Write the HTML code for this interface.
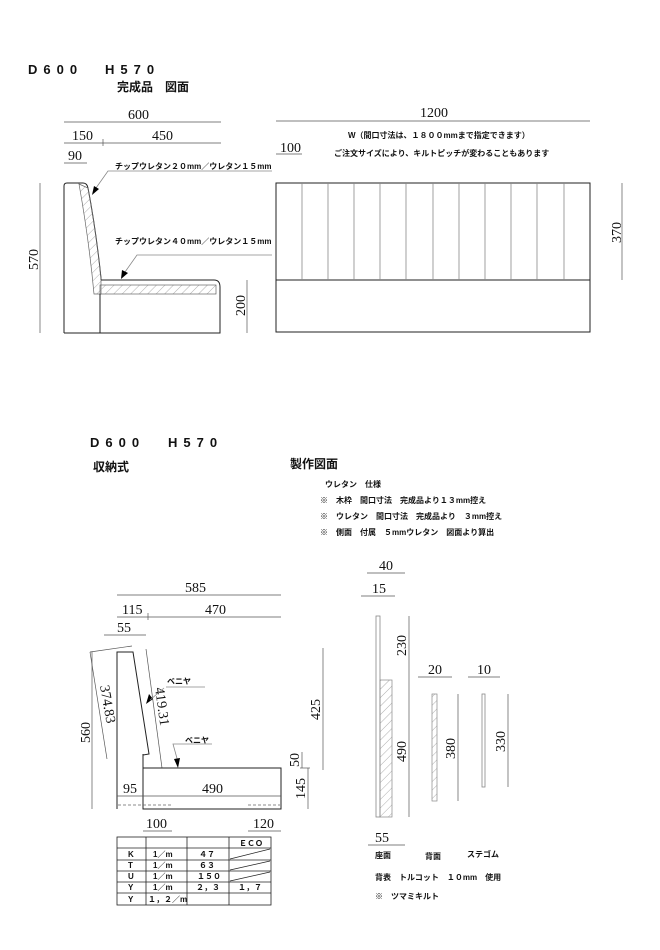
<!DOCTYPE html>
<html><head><meta charset="utf-8"><style>
html,body{margin:0;padding:0;background:#fff;}
svg{display:block;}
text{font-family:"Liberation Sans","Noto Sans CJK JP",sans-serif;fill:#111;}
.s{font-family:"Liberation Serif","Noto Serif CJK SC",serif;font-size:14px;}
.j{font-size:8px;font-weight:bold;}
.l{stroke:#222;stroke-width:1;fill:none;}
.t{stroke:#555;stroke-width:0.7;fill:none;}
.g{stroke:#888;stroke-width:0.8;fill:none;}
</style></head><body>
<svg width="660" height="950" viewBox="0 0 660 950" xmlns="http://www.w3.org/2000/svg">
<defs>
<pattern id="h" width="6" height="6" patternUnits="userSpaceOnUse" patternTransform="rotate(45)">
<line x1="0" y1="0" x2="0" y2="6" stroke="#999" stroke-width="0.8"/></pattern>
</defs>

<text x="28" y="74" font-size="13" font-weight="bold" letter-spacing="6">D600</text>
<text x="105" y="74" font-size="13" font-weight="bold" letter-spacing="6">H570</text>
<text x="117" y="91" font-size="12" font-weight="bold">完成品　図面</text>

<line class="t" x1="64" y1="122" x2="221" y2="122"/>
<text class="s" x="128" y="119">600</text>
<line class="t" x1="64" y1="143" x2="221" y2="143"/>
<line class="t" x1="103" y1="139" x2="103" y2="146"/>
<text class="s" x="72" y="140">150</text>
<text class="s" x="152" y="140">450</text>
<line class="t" x1="64" y1="163" x2="87" y2="163"/>
<text class="s" x="68" y="160">90</text>
<line class="t" x1="40" y1="183" x2="40" y2="333"/>
<text class="s" transform="translate(38,270) rotate(-90)">570</text>
<line class="t" x1="247" y1="280" x2="247" y2="333"/>
<text class="s" transform="translate(245,316) rotate(-90)">200</text>

<path class="l" d="M64 333 L64 186 Q64 183 67 183 L83 183 Q87 183 88 188 Q96 230 101 278 L101 280"/>
<path fill="url(#h)" stroke="#666" stroke-width="0.7" d="M79 184 L88 188 Q96 230 101 278 L101 294 L94 294 Q89 240 79 184Z"/>
<rect x="100" y="285" width="116" height="9" fill="url(#h)" stroke="#666" stroke-width="0.7"/>
<path class="l" d="M101 280 L214 280 Q220 280 220 287 L220 333 L64 333"/>
<line class="l" x1="100" y1="294" x2="100" y2="333"/>
<polyline class="g" points="272,171 108,171 96,188"/>
<polygon points="92,195 94,186 99,189" fill="#000"/>
<text class="j" x="115" y="169">チップウレタン２０mm／ウレタン１５mm</text>
<polyline class="g" points="272,255 137,255 125,272"/>
<polygon points="121,279 122,270 128,273" fill="#000"/>
<text class="j" x="115" y="244">チップウレタン４０mm／ウレタン１５mm</text>

<line class="t" x1="276" y1="121" x2="590" y2="121"/>
<text class="s" x="420" y="117">1200</text>
<text class="s" x="280" y="152">100</text>
<line class="t" x1="276" y1="154" x2="302" y2="154"/>
<text class="j" x="348" y="138">W（間口寸法は、１８００mmまで指定できます）</text>
<text class="j" x="334" y="156">ご注文サイズにより、キルトピッチが変わることもあります</text>
<rect class="l" x="276" y="183" width="314" height="149"/>
<line class="l" x1="276" y1="280" x2="590" y2="280"/>
<g class="g">
<line x1="302" y1="183" x2="302" y2="280"/><line x1="328" y1="183" x2="328" y2="280"/>
<line x1="354" y1="183" x2="354" y2="280"/><line x1="380" y1="183" x2="380" y2="280"/>
<line x1="406" y1="183" x2="406" y2="280"/><line x1="433" y1="183" x2="433" y2="280"/>
<line x1="459" y1="183" x2="459" y2="280"/><line x1="485" y1="183" x2="485" y2="280"/>
<line x1="511" y1="183" x2="511" y2="280"/><line x1="537" y1="183" x2="537" y2="280"/>
<line x1="564" y1="183" x2="564" y2="280"/>
</g>
<line class="t" x1="622" y1="183" x2="622" y2="280"/>
<text class="s" transform="translate(621,243) rotate(-90)">370</text>

<text x="90" y="447" font-size="13" font-weight="bold" letter-spacing="6">D600</text>
<text x="168" y="447" font-size="13" font-weight="bold" letter-spacing="6">H570</text>
<text x="93" y="471" font-size="12" font-weight="bold">収納式</text>
<text x="290" y="468" font-size="12" font-weight="bold">製作図面</text>
<text class="j" x="325" y="487">ウレタン　仕様</text>
<text class="j" x="320" y="503">※　木枠　間口寸法　完成品より１３mm控え</text>
<text class="j" x="320" y="519">※　ウレタン　間口寸法　完成品より　３mm控え</text>
<text class="j" x="320" y="535">※　側面　付属　５mmウレタン　図面より算出</text>

<line class="t" x1="117" y1="595" x2="281" y2="595"/>
<text class="s" x="185" y="592">585</text>
<line class="t" x1="117" y1="617" x2="281" y2="617"/>
<line class="t" x1="148" y1="613" x2="148" y2="620"/>
<text class="s" x="122" y="614">115</text>
<text class="s" x="205" y="614">470</text>
<line class="t" x1="104" y1="635" x2="146" y2="635"/>
<text class="s" x="117" y="632">55</text>
<line class="t" x1="92" y1="652" x2="92" y2="809"/>
<text class="s" transform="translate(90,743) rotate(-90)">560</text>
<line class="t" x1="90" y1="652" x2="107" y2="759"/>
<line class="t" x1="90" y1="652" x2="132" y2="646"/>
<text class="s" transform="translate(100,686) rotate(80)">374.83</text>
<line class="t" x1="146" y1="649" x2="162" y2="768"/>
<text class="s" transform="translate(155,688) rotate(82)">419.31</text>

<path class="l" d="M117 809 L117 652 L133 652 L149 754 L143 755 L143 768"/>
<rect class="l" x="143" y="768" width="138" height="41"/>
<line class="l" x1="143" y1="754" x2="143" y2="809"/>
<line class="t" x1="117" y1="796" x2="281" y2="796"/>
<line x1="118" y1="805" x2="173" y2="805" stroke="#666" stroke-width="0.7" stroke-dasharray="3,2"/>
<line x1="248" y1="805" x2="280" y2="805" stroke="#666" stroke-width="0.7" stroke-dasharray="3,2"/>
<text class="s" x="123" y="793">95</text>
<text class="s" x="202" y="793">490</text>
<polyline class="g" points="205,687 166,687"/>
<polygon points="146,704 149,694 153,699" fill="#000"/>
<line class="g" x1="150" y1="700" x2="164" y2="688"/>
<text class="j" x="167" y="684">ベニヤ</text>
<polyline class="g" points="212,744 173,744 178,762"/>
<polygon points="178,768 174,759 180,758" fill="#000"/>
<text class="j" x="185" y="743">ベニヤ</text>

<line class="t" x1="323" y1="648" x2="323" y2="770"/>
<text class="s" transform="translate(320,720) rotate(-90)">425</text>
<line class="t" x1="302" y1="752" x2="302" y2="768"/>
<line class="t" x1="300" y1="768" x2="310" y2="768"/>
<text class="s" transform="translate(299,767) rotate(-90)">50</text>
<line class="t" x1="308" y1="768" x2="308" y2="809"/>
<text class="s" transform="translate(305,799) rotate(-90)">145</text>

<line class="t" x1="143" y1="831" x2="172" y2="831"/>
<text class="s" x="146" y="828">100</text>
<line class="t" x1="248" y1="831" x2="281" y2="831"/>
<text class="s" x="253" y="828">120</text>

<g stroke="#222" stroke-width="0.8" fill="none">
<rect x="117" y="837" width="154" height="68"/>
<line x1="117" y1="848" x2="271" y2="848"/><line x1="117" y1="860" x2="271" y2="860"/>
<line x1="117" y1="871" x2="271" y2="871"/><line x1="117" y1="882" x2="271" y2="882"/>
<line x1="117" y1="893" x2="271" y2="893"/>
<line x1="146" y1="837" x2="146" y2="905"/><line x1="187" y1="837" x2="187" y2="905"/>
<line x1="229" y1="837" x2="229" y2="905"/>
<line x1="230" y1="859" x2="270" y2="849"/><line x1="230" y1="870" x2="270" y2="861"/>
<line x1="230" y1="881" x2="270" y2="872"/>
</g>
<g font-size="8" font-weight="bold">
<text x="239" y="846">ＥＣＯ</text>
<text x="128" y="857">K</text><text x="153" y="857">1／m</text><text x="199" y="857">４７</text>
<text x="128" y="868">T</text><text x="153" y="868">1／m</text><text x="199" y="868">６３</text>
<text x="128" y="879">U</text><text x="153" y="879">1／m</text><text x="197" y="879">１５０</text>
<text x="128" y="890">Y</text><text x="153" y="890">1／m</text><text x="196" y="890">２，３</text><text x="238" y="890">１，７</text>
<text x="128" y="902">Y</text><text x="148" y="902">１，２／m</text>
</g>

<line class="t" x1="367" y1="573" x2="405" y2="573"/>
<text class="s" x="379" y="570">40</text>
<line class="t" x1="361" y1="596" x2="395" y2="596"/>
<text class="s" x="372" y="593">15</text>
<rect class="g" x="376" y="616" width="4" height="201"/>
<rect x="380" y="680" width="12" height="137" fill="url(#h)" stroke="#888" stroke-width="0.7"/>
<line class="t" x1="409" y1="616" x2="409" y2="817"/>
<text class="s" transform="translate(406,656) rotate(-90)">230</text>
<text class="s" transform="translate(406,762) rotate(-90)">490</text>
<line class="t" x1="418" y1="677" x2="452" y2="677"/>
<text class="s" x="428" y="674">20</text>
<rect x="432" y="694" width="5" height="107" fill="url(#h)" stroke="#888" stroke-width="0.7"/>
<line class="t" x1="458" y1="694" x2="458" y2="801"/>
<text class="s" transform="translate(455,759) rotate(-90)">380</text>
<line class="t" x1="468" y1="677" x2="500" y2="677"/>
<text class="s" x="477" y="674">10</text>
<rect class="g" x="482" y="694" width="3" height="93"/>
<line class="t" x1="508" y1="694" x2="508" y2="787"/>
<text class="s" transform="translate(505,752) rotate(-90)">330</text>
<line class="t" x1="368" y1="845" x2="405" y2="845"/>
<text class="s" x="375" y="842">55</text>
<text class="j" x="375" y="858">座面</text>
<text class="j" x="425" y="859">背面</text>
<text class="j" x="467" y="857">ステゴム</text>
<text class="j" x="375" y="880">背表　トルコット　１０mm　使用</text>
<text class="j" x="375" y="899">※　ツマミキルト</text>
</svg>
</body></html>
